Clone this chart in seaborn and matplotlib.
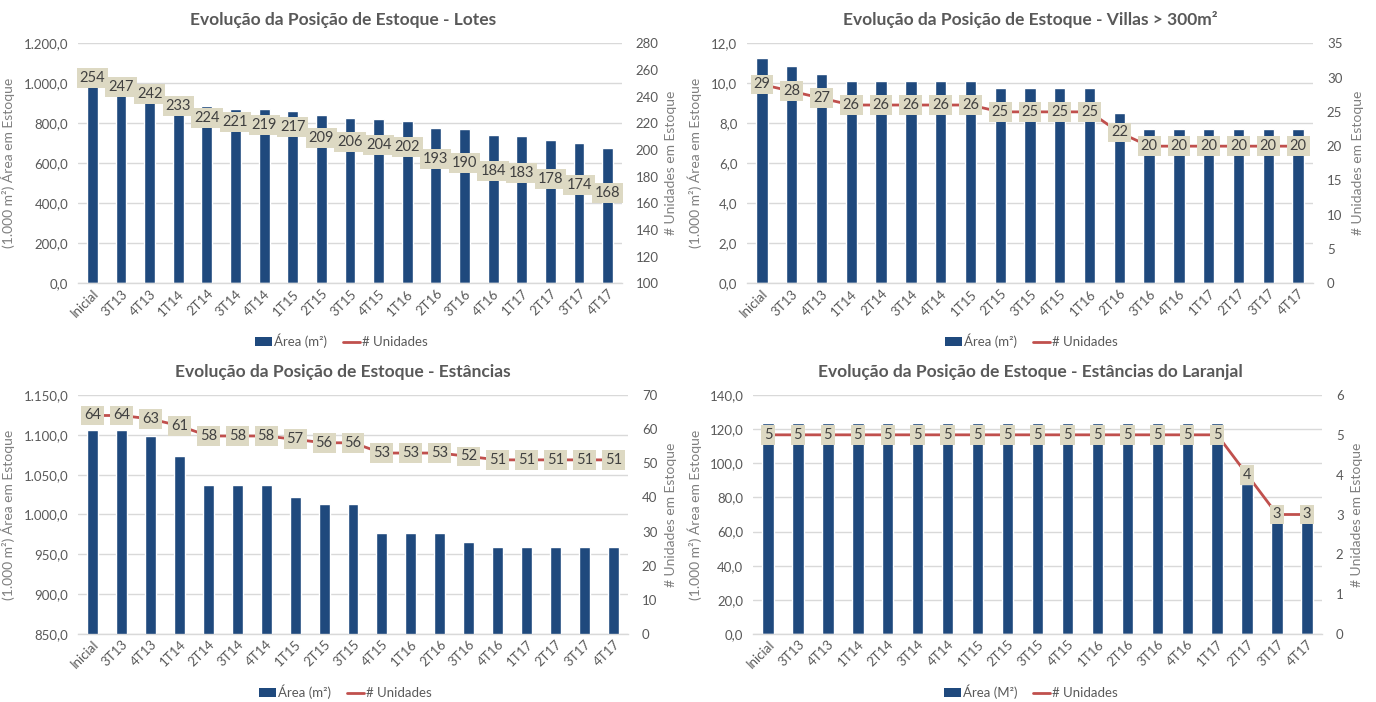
import numpy as np
import pandas as pd
import matplotlib
matplotlib.use("Agg")
import matplotlib.pyplot as plt
from matplotlib.patches import Patch
from matplotlib.lines import Line2D
from matplotlib.ticker import FuncFormatter, MultipleLocator
import seaborn as sns

sns.set_theme(style="white")
plt.rcParams['font.family'] = ['Lato', 'DejaVu Sans']

# ---------------- data ----------------
categories = ["Inicial", "3T13", "4T13", "1T14", "2T14", "3T14", "4T14", "1T15", "2T15",
              "3T15", "4T15", "1T16", "2T16", "3T16", "4T16", "1T17", "2T17", "3T17", "4T17"]

lotes_area = [998, 965, 940, 912, 887, 870, 870, 862, 840, 829, 822, 810, 777, 770, 740, 735, 717, 700, 677]
lotes_units = [254, 247, 242, 233, 224, 221, 219, 217, 209, 206, 204, 202, 193, 190, 184, 183, 178, 174, 168]

villas_area = [11.28, 10.88, 10.48, 10.13, 10.13, 10.13, 10.13, 10.13, 9.78, 9.78, 9.78, 9.78, 8.50,
               7.71, 7.71, 7.71, 7.71, 7.71, 7.71]
villas_units = [29, 28, 27, 26, 26, 26, 26, 26, 25, 25, 25, 25, 22, 20, 20, 20, 20, 20, 20]

estancias_area = [1106, 1106, 1098, 1073, 1037.5, 1037.5, 1037.5, 1021.7, 1013, 1013, 976.7, 976.7,
                  976.7, 966, 959, 959, 959, 959, 959]
estancias_units = [64, 64, 63, 61, 58, 58, 58, 57, 56, 56, 53, 53, 53, 52, 51, 51, 51, 51, 51]

laranjal_area = [123.8, 123.8, 123.8, 123.8, 123.8, 123.8, 123.8, 123.8, 123.8, 123.8, 123.8, 123.8,
                 123.8, 123.8, 123.8, 123.8, 87.9, 65.5, 67.4]
laranjal_units = [5, 5, 5, 5, 5, 5, 5, 5, 5, 5, 5, 5, 5, 5, 5, 5, 4, 3, 3]

titles = ["Evolução da Posição de Estoque - Lotes",
          "Evolução da Posição de Estoque - Villas > 300m²",
          "Evolução da Posição de Estoque - Estâncias",
          "Evolução da Posição de Estoque - Estâncias do Laranjal"]
area_labels = ["Área (m²)", "Área (m²)", "Área (m²)", "Área (M²)"]
units_label = "# Unidades"
left_ylabel = "(1.000 m²) Área em Estoque"
right_ylabel = "# Unidades em Estoque"

# axis ranges (min, max, step)
left_ranges = [(0, 1200, 200), (0, 12, 2), (850, 1150, 50), (0, 140, 20)]
right_ranges = [(100, 280, 20), (0, 35, 5), (0, 70, 10), (0, 6, 1)]

# ---------------- style ----------------
BAR = "#1F497D"
LINE = "#C0504D"
GRID = "#D9D9D9"
TXT = "#595959"
LBL_BG = "#DDD9C3"

W, H = 1376, 702
fig = plt.figure(figsize=(W / 100, H / 100), dpi=100)

# pixel boxes: left, right, top, bottom
boxes = [(78, 622, 43.3, 283.3), (747, 1313, 43.3, 283.3),
         (78, 628, 395, 634), (753, 1322, 395, 634)]
title_pos = [(343, 20), (1030, 20), (343, 372), (1030, 372)]
left_lab_x = [15, 702, 15, 702]
right_lab_x = [665, 1352, 665, 1351]
legend_pos = [(341, 341), (1031, 341), (345, 692), (1031, 692)]

datasets = [(lotes_area, lotes_units), (villas_area, villas_units),
            (estancias_area, estancias_units), (laranjal_area, laranjal_units)]


def br_fmt(v, pos):
    s = f"{v:,.1f}"
    return s.replace(",", "X").replace(".", ",").replace("X", ".")


for i, (area, units) in enumerate(datasets):
    l, r, t, b = boxes[i]
    ax = fig.add_axes([l / W, 1 - b / H, (r - l) / W, (b - t) / H])
    df = pd.DataFrame({"cat": categories, "area": area, "units": units})
    sns.barplot(data=df, x="cat", y="area", order=categories, color=BAR, width=0.38,
                saturation=1, ax=ax, zorder=2)
    lo, hi, st = left_ranges[i]
    ax.set_ylim(lo, hi)
    ax.yaxis.set_major_locator(MultipleLocator(st))
    ax.yaxis.set_major_formatter(FuncFormatter(br_fmt))
    ax.set_xlim(-0.5, len(categories) - 0.5)
    ax.grid(axis="y", color=GRID, linewidth=1.0, zorder=0)
    ax.grid(axis="x", visible=False)
    ax.set_axisbelow(True)
    for s in ["top", "right", "left"]:
        ax.spines[s].set_visible(False)
    ax.spines["bottom"].set_color(GRID)
    ax.spines["bottom"].set_linewidth(1.0)
    ax.tick_params(axis="both", length=0, colors=TXT, labelsize=9.5)
    ax.tick_params(axis="y", pad=7)
    ax.tick_params(axis="x", pad=3)
    ax.set_xlabel("")
    ax.set_ylabel(left_ylabel, color="#7F7F7F", fontsize=10)
    ax.yaxis.set_label_coords(left_lab_x[i] / W, 1 - (t + b) / 2 / H, transform=fig.transFigure)
    plt.setp(ax.get_xticklabels(), rotation=45, ha="right", rotation_mode="anchor")

    ax2 = ax.twinx()
    xs = np.arange(len(categories))
    sns.lineplot(x=xs, y=units, color=LINE, linewidth=2.0, ax=ax2, zorder=3)
    rlo, rhi, rst = right_ranges[i]
    ax2.set_ylim(rlo, rhi)
    ax2.yaxis.set_major_locator(MultipleLocator(rst))
    ax2.set_xlim(-0.5, len(categories) - 0.5)
    for s in ax2.spines.values():
        s.set_visible(False)
    ax2.tick_params(axis="y", length=0, colors=TXT, labelsize=9.5, pad=10)
    ax2.grid(False)
    ax2.set_ylabel(right_ylabel, color="#7F7F7F", fontsize=10)
    ax2.yaxis.set_label_coords(right_lab_x[i] / W, 1 - (t + b) / 2 / H, transform=fig.transFigure)
    for x, u in zip(xs, units):
        ax2.text(x, u, f"{u}", ha="center", va="center", fontsize=10.5, color="#404040",
                 zorder=5,
                 bbox=dict(boxstyle="square,pad=0.2", facecolor=LBL_BG, edgecolor="none"))

    fig.text(title_pos[i][0] / W, 1 - title_pos[i][1] / H, titles[i], ha="center", va="center",
             fontsize=12.5, fontweight="bold", color=TXT)

    handles = [Patch(facecolor=BAR, edgecolor="none", label=area_labels[i]),
               Line2D([0], [0], color=LINE, linewidth=2, label=units_label)]
    fig.legend(handles=handles, loc="center",
               bbox_to_anchor=(legend_pos[i][0] / W, 1 - legend_pos[i][1] / H),
               ncol=2, frameon=False, fontsize=9.5, labelcolor=TXT,
               handlelength=1.3, handleheight=0.7, handletextpad=0.15, columnspacing=1.2)

fig.savefig("out.png", dpi=100)
